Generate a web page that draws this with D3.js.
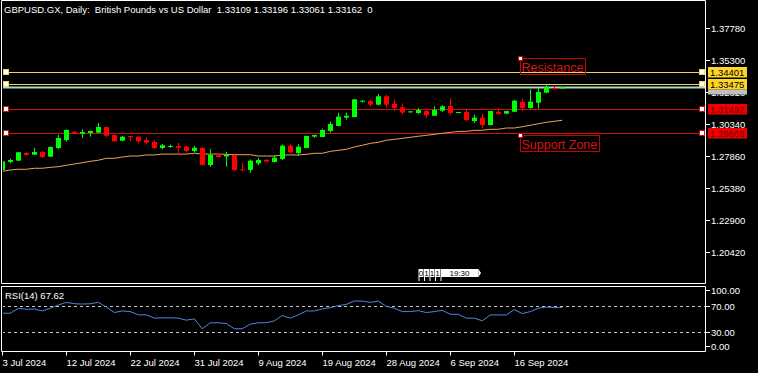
<!DOCTYPE html>
<html>
<head>
<meta charset="utf-8">
<script src="https://cdn.jsdelivr.net/npm/d3@7"></script>
<style>
  body { margin: 0; background: #000; }
  svg { display: block; }
  text { font-family: "Liberation Sans", Arial, sans-serif; }
</style>
</head>
<body>
<svg id="chart" width="758" height="373"></svg>
<script>
//---------- data ----------//
const title = "GBPUSD.GX, Daily:  British Pounds vs US Dollar  1.33109 1.33196 1.33061 1.33162  0";
const dateLabels = ["3 Jul 2024", "12 Jul 2024", "22 Jul 2024", "31 Jul 2024", "9 Aug 2024",
  "19 Aug 2024", "28 Aug 2024", "6 Sep 2024", "16 Sep 2024"];
const priceTicks = [1.37780, 1.35300, 1.32820, 1.30340, 1.27860, 1.25380, 1.22900, 1.20420];
const rsiTicks = [100, 70, 30, 0];

const open = [1.2678, 1.2740, 1.2750, 1.2809, 1.2796, 1.2817, 1.2781, 1.2848, 1.2910, 1.2974,
  1.2959, 1.2964, 1.2967, 1.3011, 1.2949, 1.2905, 1.2941, 1.2936, 1.2910, 1.2895,
  1.2848, 1.2856, 1.2864, 1.2858, 1.2825, 1.2848, 1.2716, 1.2799, 1.2782, 1.2794,
  1.2683, 1.2678, 1.2729, 1.2757, 1.2740, 1.2763, 1.2866, 1.2809, 1.2848, 1.2936,
  1.2933, 1.2980, 1.3019, 1.3083, 1.3088, 1.3207, 1.3212, 1.3184, 1.3249, 1.3189,
  1.3163, 1.3125, 1.3119, 1.3135, 1.3098, 1.3137, 1.3174, 1.3119, 1.3127, 1.3057,
  1.3083, 1.3026, 1.3129, 1.3114, 1.3129, 1.3205, 1.3158, 1.3199, 1.3277, 1.3313, 1.33109];
const high = [1.2763, 1.2765, 1.2817, 1.2819, 1.2848, 1.2825, 1.2860, 1.2949, 1.2991, 1.2977,
  1.2993, 1.2982, 1.3042, 1.3013, 1.2951, 1.2943, 1.2943, 1.2939, 1.2931, 1.2910,
  1.2879, 1.2874, 1.2887, 1.2866, 1.2864, 1.2858, 1.2840, 1.2802, 1.2819, 1.2796,
  1.2734, 1.2760, 1.2771, 1.2760, 1.2791, 1.2874, 1.2877, 1.2877, 1.2943, 1.2951,
  1.2998, 1.3052, 1.3122, 1.3122, 1.3228, 1.3216, 1.3222, 1.3267, 1.3261, 1.3225,
  1.3194, 1.3135, 1.3158, 1.3148, 1.3171, 1.3179, 1.3236, 1.3129, 1.3148, 1.3106,
  1.3112, 1.3137, 1.3156, 1.3137, 1.3220, 1.3228, 1.3303, 1.3313, 1.3339, 1.3329, 1.33196];
const low = [1.2670, 1.2729, 1.2747, 1.2790, 1.2794, 1.2771, 1.2778, 1.2840, 1.2897, 1.2957,
  1.2926, 1.2936, 1.2964, 1.2931, 1.2897, 1.2902, 1.2900, 1.2884, 1.2874, 1.2840,
  1.2838, 1.2850, 1.2799, 1.2815, 1.2812, 1.2714, 1.2703, 1.2774, 1.2703, 1.2667,
  1.2667, 1.2657, 1.2714, 1.2740, 1.2737, 1.2755, 1.2804, 1.2788, 1.2846, 1.2926,
  1.2931, 1.2967, 1.3016, 1.3067, 1.3086, 1.3199, 1.3168, 1.3179, 1.3160, 1.3137,
  1.3106, 1.3122, 1.3112, 1.3080, 1.3096, 1.3129, 1.3104, 1.3117, 1.3055, 1.3044,
  1.3001, 1.3024, 1.3104, 1.3112, 1.3127, 1.3137, 1.3152, 1.3152, 1.3272, 1.3301, 1.33061];
const close = [1.2745, 1.2755, 1.2815, 1.2794, 1.2817, 1.2778, 1.2856, 1.2926, 1.2988, 1.2959,
  1.2972, 1.2980, 1.3011, 1.2943, 1.2900, 1.2936, 1.2933, 1.2900, 1.2889, 1.2848,
  1.2869, 1.2864, 1.2850, 1.2825, 1.2850, 1.2716, 1.2794, 1.2778, 1.2794, 1.2678,
  1.2678, 1.2750, 1.2755, 1.2742, 1.2773, 1.2866, 1.2815, 1.2858, 1.2941, 1.2949,
  1.2988, 1.3034, 1.3091, 1.3098, 1.3225, 1.3215, 1.3184, 1.3249, 1.3184, 1.3158,
  1.3122, 1.3132, 1.3143, 1.3101, 1.3143, 1.3171, 1.3119, 1.3127, 1.3065, 1.3083,
  1.3026, 1.3135, 1.3112, 1.3135, 1.3215, 1.3158, 1.3207, 1.3282, 1.3318, 1.3303, 1.33162];
// moving average (orange line)
const movingAvg = [1.2667, 1.2678, 1.2683, 1.2683, 1.2691, 1.2691, 1.2698, 1.2703, 1.2714, 1.2724,
  1.2734, 1.2745, 1.2753, 1.2768, 1.2768, 1.2778, 1.2786, 1.2786, 1.2794, 1.2794,
  1.2801, 1.2801, 1.2801, 1.2801, 1.2807, 1.2801, 1.2801, 1.2801, 1.2799, 1.2796,
  1.2796, 1.2796, 1.2786, 1.2786, 1.2786, 1.2794, 1.2794, 1.2794, 1.2799, 1.2807,
  1.2807, 1.2822, 1.2830, 1.2838, 1.2856, 1.2869, 1.2884, 1.2892, 1.2908, 1.2915,
  1.2923, 1.2931, 1.2939, 1.2946, 1.2954, 1.2962, 1.2969, 1.2977, 1.2977, 1.2985,
  1.2985, 1.2993, 1.2993, 1.3003, 1.3003, 1.3013, 1.3024, 1.3036, 1.3047, 1.3055, 1.3063];
const rsi = [58.9, 58.9, 66.5, 64.9, 65.4, 62.4, 66.5, 71.5, 75.6, 73.5,
  73.0, 73.5, 75.6, 68.5, 59.9, 62.4, 61.4, 56.3, 56.3, 51.3,
  51.8, 51.8, 51.3, 48.2, 50.2, 35.0, 44.2, 44.2, 43.1, 35.0,
  35.0, 42.1, 44.2, 44.2, 47.2, 55.3, 51.3, 56.3, 62.4, 62.4,
  65.4, 67.5, 70.5, 72.5, 77.6, 77.6, 75.6, 77.6, 69.5, 66.5,
  61.4, 61.4, 62.9, 59.9, 61.4, 63.4, 57.3, 57.3, 51.3, 51.3,
  47.2, 56.3, 56.3, 56.3, 64.4, 58.3, 61.4, 66.5, 68.5, 67.5, 67.62];

// horizontal levels
const levelPrices = [1.34401, 1.33475, 1.31492, 1.29668];
const levelKinds = ["yellow", "yellow", "red", "red"];
const bidPrice = 1.33162;
const zoneNames = ["Resistance", "Support Zone"];
const timerParts = ["0", "1", "1", "1", "19:30"];

//---------- setup ----------//
const svg = d3.select("#chart");
const W = 758, H = 373;
const plotLeft = 2, plotRight = 705;
const mainTop = 0.5, mainBottom = 283.5;
const rsiTop = 286.5, rsiBottom = 351.5;

const n = close.length;
const x = d3.scaleLinear().domain([0, n - 1]).range([2.3, 2.3 + 8 * (n - 1)]);
const y = d3.scaleLinear().domain([1.20420, 1.37780]).range([252, 28]);
const yRsi = d3.scaleLinear().domain([0, 100]).range([rsiBottom, rsiTop]);

const colors = {
  up: "#00ff00", down: "#ff0000", ma: "#f0a258", rsi: "#4f86dc",
  yellow: "#f2d25a", yellowBox: "#ffd42a", red: "#d01010", redBox: "#ee0000",
  bid: "#a8dad2", frame: "#ffffff"
};

svg.append("rect").attr("width", W).attr("height", H).attr("fill", "#000");

const defs = svg.append("defs");
defs.append("clipPath").attr("id", "mainClip")
  .append("rect").attr("x", plotLeft + 1).attr("y", mainTop).attr("width", plotRight - plotLeft - 1).attr("height", mainBottom - mainTop);
defs.append("clipPath").attr("id", "rsiClip")
  .append("rect").attr("x", plotLeft + 1).attr("y", rsiTop).attr("width", plotRight - plotLeft - 1).attr("height", rsiBottom - rsiTop);

const main = svg.append("g").attr("clip-path", "url(#mainClip)");

//---------- horizontal levels (behind the candles) ----------//
main.append("line")
  .attr("x1", plotLeft).attr("x2", plotRight)
  .attr("y1", y(bidPrice)).attr("y2", y(bidPrice))
  .attr("stroke", colors.bid).attr("stroke-width", 2);

levelPrices.forEach((p, i) => {
  const py = Math.round(y(p)) + 0.5;
  main.append("line")
    .attr("x1", plotLeft).attr("x2", plotRight)
    .attr("y1", py).attr("y2", py)
    .attr("stroke", levelKinds[i] === "yellow" ? colors.yellow : colors.red)
    .attr("stroke-width", 1);
});

//---------- moving average ----------//
main.append("path")
  .datum(movingAvg)
  .attr("fill", "none")
  .attr("stroke", colors.ma)
  .attr("stroke-width", 1)
  .attr("d", d3.line().x((d, i) => x(i)).y(d => y(d)));

//---------- candles ----------//
const candles = main.selectAll("g.candle")
  .data(d3.range(n))
  .join("g").attr("class", "candle");

candles.append("line")
  .attr("x1", i => Math.round(x(i)) + 0.5)
  .attr("x2", i => Math.round(x(i)) + 0.5)
  .attr("y1", i => y(high[i]))
  .attr("y2", i => y(low[i]))
  .attr("stroke", i => close[i] >= open[i] ? colors.up : colors.down);

candles.append("rect")
  .attr("x", i => Math.round(x(i)) - 2)
  .attr("width", 5)
  .attr("y", i => y(Math.max(open[i], close[i])))
  .attr("height", i => Math.max(1, Math.abs(y(open[i]) - y(close[i]))))
  .attr("fill", i => close[i] >= open[i] ? colors.up : colors.down);

//---------- anchor squares on the levels ----------//
levelPrices.forEach((p, i) => {
  const py = Math.round(y(p));
  const c = levelKinds[i] === "yellow" ? colors.yellow : colors.red;
  [plotLeft + 1, plotRight - 6].forEach(ax => {
    svg.append("rect")
      .attr("x", ax + 0.5).attr("y", py - 2.5)
      .attr("width", 5).attr("height", 5)
      .attr("fill", "#fff").attr("stroke", c).attr("stroke-width", 1);
  });
});

//---------- zone labels ----------//
const zoneAnchor = [y(1.3545), y(1.2945)];
zoneNames.forEach((name, i) => {
  const zx = x(65) - 2.3;
  const top = Math.round(zoneAnchor[i]);
  const t = svg.append("text")
    .attr("x", zx + 1.5).attr("y", top + 13.5)
    .attr("font-size", 12.5)
    .attr("fill", "#d81414")
    .text(name);
  const w = t.node().getComputedTextLength();
  svg.append("rect")
    .attr("x", zx + 0.5).attr("y", top + 0.5)
    .attr("width", Math.ceil(w) + 3).attr("height", 16)
    .attr("fill", "none").attr("stroke", "#c80000");
  svg.append("rect")
    .attr("x", zx - 1.5).attr("y", top - 1.5)
    .attr("width", 4).attr("height", 4)
    .attr("fill", "#fff").attr("stroke", "#c80000");
});

//---------- timer widget ----------//
const timer = svg.append("g").attr("transform", "translate(418.5,269)");
let tx = 0;
timerParts.forEach((s, i) => {
  const w = s.length > 1 ? 38 : 5;
  timer.append("rect").attr("x", tx).attr("y", 0).attr("width", w).attr("height", 8).attr("fill", "#fff");
  timer.append("rect").attr("x", tx).attr("y", 8).attr("width", 1).attr("height", 4).attr("fill", "#fff");
  timer.append("text").attr("x", tx + w / 2).attr("y", 7)
    .attr("text-anchor", "middle").attr("font-size", 8).attr("fill", "#000").text(s);
  if (i === timerParts.length - 1) {
    timer.append("path").attr("d", `M${tx + w},0 L${tx + w + 2.5},4 L${tx + w},8 Z`).attr("fill", "#fff");
  }
  tx += w + 0.5;
});

//---------- frames ----------//
svg.append("path")
  .attr("d", `M${plotLeft - 0.5},${mainTop} H${plotRight + 0.5} M${plotLeft - 0.5},${mainTop} V${mainBottom} H${plotRight + 0.5} M${plotRight + 0.5},${mainTop} V${mainBottom}`)
  .attr("stroke", colors.frame).attr("fill", "none");
svg.append("path")
  .attr("d", `M${plotLeft - 0.5},${rsiTop} H${plotRight + 0.5} V${rsiBottom} H${plotLeft - 0.5} Z`)
  .attr("stroke", colors.frame).attr("fill", "none");

//---------- title ----------//
svg.append("text")
  .attr("x", 4).attr("y", 13)
  .attr("font-size", 9.5).attr("fill", "#fff")
  .style("white-space", "pre")
  .text(title);

//---------- price axis ----------//
const priceAxis = svg.append("g");
priceTicks.forEach(p => {
  const py = Math.round(y(p)) + 0.5;
  priceAxis.append("line").attr("x1", plotRight + 1).attr("x2", plotRight + 5)
    .attr("y1", py).attr("y2", py).attr("stroke", "#fff");
  priceAxis.append("text").attr("x", plotRight + 6).attr("y", py + 3.5)
    .attr("font-size", 9.5).attr("fill", "#fff").text(p.toFixed(5));
});

// bid label (mostly under the yellow label)
const by = Math.round(y(bidPrice));
svg.append("rect").attr("x", plotRight + 3).attr("y", by + 1.5).attr("width", 39).attr("height", 5).attr("fill", "#c0c0c0");

levelPrices.forEach((p, i) => {
  const py = Math.round(y(p));
  const isY = levelKinds[i] === "yellow";
  svg.append("rect").attr("x", plotRight + 3).attr("y", py - 5)
    .attr("width", 39).attr("height", 10.5)
    .attr("fill", isY ? colors.yellowBox : colors.redBox);
  svg.append("text").attr("x", plotRight + 5).attr("y", py + 3.8)
    .attr("font-size", 9.5).attr("fill", isY ? "#000" : "#700000").text(p.toFixed(5));
});

//---------- RSI panel ----------//
const rsiG = svg.append("g").attr("clip-path", "url(#rsiClip)");
[70, 30].forEach(v => {
  rsiG.append("line").attr("x1", plotLeft).attr("x2", plotRight)
    .attr("y1", Math.round(yRsi(v)) + 0.5).attr("y2", Math.round(yRsi(v)) + 0.5)
    .attr("stroke", "#c8c8c8").attr("stroke-dasharray", "3,3");
});
rsiG.append("path")
  .datum(rsi)
  .attr("fill", "none")
  .attr("stroke", colors.rsi)
  .attr("stroke-width", 1)
  .attr("d", d3.line().x((d, i) => x(i)).y(d => yRsi(d)));

svg.append("text").attr("x", 5).attr("y", 299)
  .attr("font-size", 9.5).attr("fill", "#fff")
  .text(`RSI(14) ${rsi[n - 1].toFixed(2)}`);

rsiTicks.forEach(v => {
  const py = Math.round(yRsi(v)) + 0.5;
  const ly = Math.min(Math.max(py, rsiTop + 4), rsiBottom - 5);
  svg.append("line").attr("x1", plotRight + 1).attr("x2", plotRight + 5)
    .attr("y1", ly).attr("y2", ly).attr("stroke", "#fff");
  svg.append("text").attr("x", plotRight + 6).attr("y", ly + 3.5)
    .attr("font-size", 9.5).attr("fill", "#fff").text(v.toFixed(2));
});

//---------- time axis ----------//
dateLabels.forEach((d, i) => {
  const tx0 = Math.round(x(i * 8)) + 0.5;
  svg.append("line").attr("x1", tx0).attr("x2", tx0)
    .attr("y1", rsiBottom).attr("y2", rsiBottom + 4).attr("stroke", "#fff");
  svg.append("text").attr("x", tx0).attr("y", 366)
    .attr("font-size", 9.5).attr("fill", "#fff").text(d);
});
</script>
</body>
</html>
